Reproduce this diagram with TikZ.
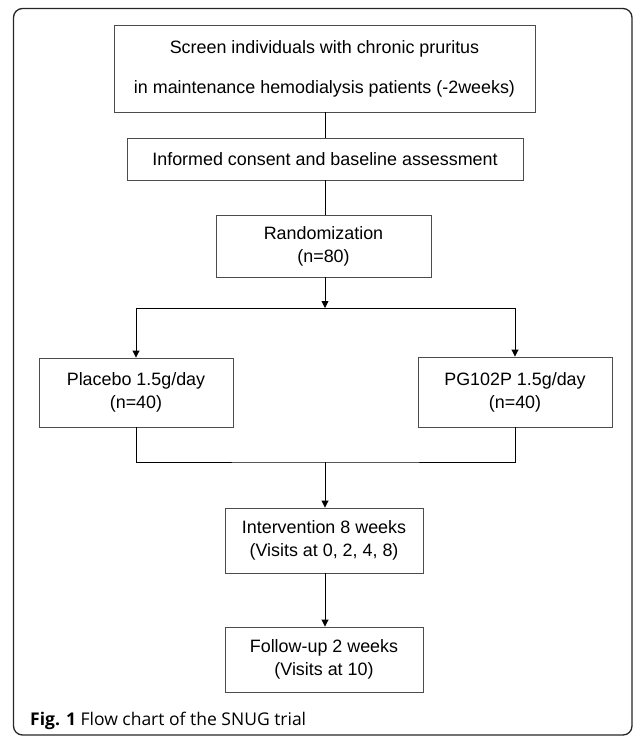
\documentclass[tikz,border=0pt]{standalone}
\usepackage{fontspec}
\setmainfont{Liberation Sans}
\newfontfamily\capfont{Open Sans}
\usetikzlibrary{arrows.meta}
\begin{document}
\begin{tikzpicture}[x=1pt,y=-1pt,
  box/.style={draw=black!70, line width=0.9pt, align=center, inner sep=0pt,
    font=\fontsize{17.9}{23}\selectfont},
  conn/.style={draw=black, line width=0.9pt},
  arr/.style={conn, -{Triangle[length=7pt,width=7pt]}}]
\useasboundingbox (0,0) rectangle (633,736);
\draw[black!85, line width=1.3pt, rounded corners=9pt] (13.5,8.5) rectangle (632,735);

\node[box, minimum width=421pt, minimum height=87pt] (b1) at (324.5,68.5)
  {Screen individuals with chronic pruritus\\[17pt]in maintenance hemodialysis patients (-2weeks)};
\node[box, minimum width=396pt, minimum height=42pt] (b2) at (325,159)
  {Informed consent and baseline assessment};
\node[box, minimum width=215pt, minimum height=62pt] (rand) at (323.5,246)
  {Randomization\\(n=80)};
\node[box, minimum width=194pt, minimum height=69pt] (plac) at (136,392.5)
  {Placebo 1.5g/day\\(n=40)};
\node[box, minimum width=194pt, minimum height=70pt] (pg) at (515,392)
  {PG102P 1.5g/day\\(n=40)};
\node[box, minimum width=198pt, minimum height=65pt] (int) at (324,540.5)
  {Intervention 8 weeks\\(Visits at 0, 2, 4, 8)};
\node[box, minimum width=198pt, minimum height=65pt] (fu) at (324,659.5)
  {Follow-up 2 weeks\\(Visits at 10)};

\coordinate (j1) at (325,308);
\coordinate (j2) at (325,462);

\draw[conn] (b1.south -| j1) -- (b2.north -| j1);
\draw[conn] (b2.south -| j1) -- (rand.north -| j1);
\draw[arr] (rand.south -| j1) -- (j1);
\draw[arr] (j1) -| (plac.north);
\draw[arr] (j1) -| (pg.north);
\draw[conn] (plac.south) |- (j2) -| (pg.south);
\draw[arr] (j2) -- (int.north -| j2);
\draw[arr] (int.south -| j2) -- (fu.north -| j2);

\node[anchor=base west, inner sep=0pt, font=\capfont\fontsize{17.5}{20}\selectfont] (cap) at (30,725)
  {\textbf{Fig. 1} Flow chart of the SNUG trial};
\end{tikzpicture}
\end{document}
